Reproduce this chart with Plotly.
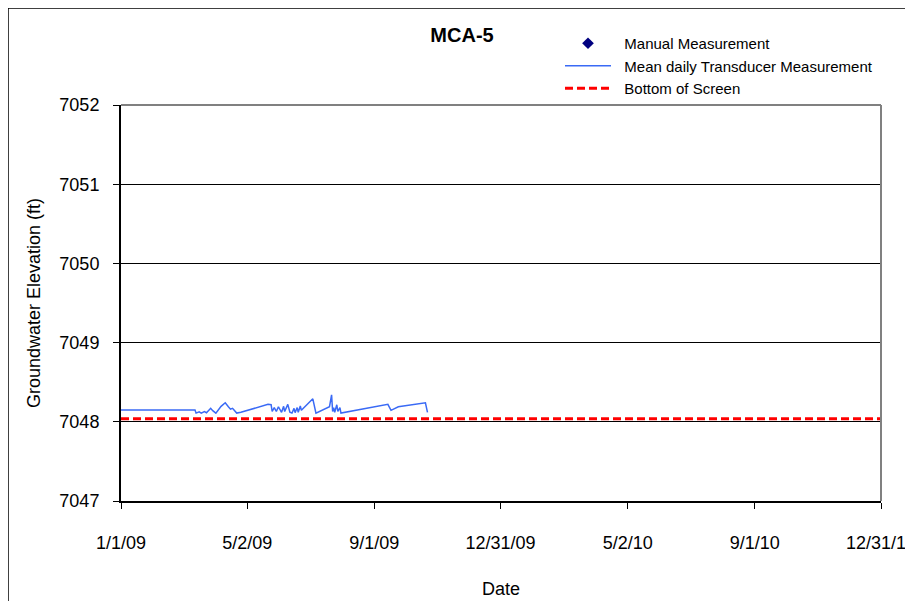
import plotly.graph_objects as go

# ---- data ----
transducer_dates = [
    "2009-01-01", "2009-03-13", "2009-03-14", "2009-03-17", "2009-03-19", "2009-03-22",
    "2009-03-24", "2009-03-28", "2009-03-30", "2009-04-02", "2009-04-07", "2009-04-11",
    "2009-04-14", "2009-04-16", "2009-04-18", "2009-04-22", "2009-04-26", "2009-05-22",
    "2009-05-25", "2009-05-26", "2009-05-28", "2009-05-30", "2009-06-01", "2009-06-04",
    "2009-06-06", "2009-06-07", "2009-06-10", "2009-06-12", "2009-06-14", "2009-06-16",
    "2009-06-17", "2009-06-19", "2009-06-20", "2009-06-22", "2009-06-23", "2009-07-04",
    "2009-07-07", "2009-07-20", "2009-07-22", "2009-07-23", "2009-07-24", "2009-07-25",
    "2009-07-27", "2009-07-28", "2009-07-30", "2009-07-31", "2009-09-14", "2009-09-17",
    "2009-09-24", "2009-10-20", "2009-10-22",
]
transducer_values = [
    7048.148, 7048.148, 7048.11, 7048.126, 7048.11, 7048.13,
    7048.115, 7048.17, 7048.14, 7048.11, 7048.195, 7048.24,
    7048.19, 7048.16, 7048.17, 7048.11, 7048.12, 7048.22,
    7048.215, 7048.13, 7048.18, 7048.13, 7048.19, 7048.12,
    7048.195, 7048.13, 7048.22, 7048.12, 7048.11, 7048.17,
    7048.115, 7048.18, 7048.12, 7048.20, 7048.145, 7048.29,
    7048.11, 7048.19, 7048.34, 7048.13, 7048.18, 7048.12,
    7048.215, 7048.13, 7048.18, 7048.11, 7048.22, 7048.145,
    7048.19, 7048.24, 7048.12,
]
manual_dates = [None]
manual_values = [None]
screen_dates = ["2009-01-01", "2010-12-31"]
screen_values = [7048.04, 7048.04]

x_tick_vals = ["2009-01-01", "2009-05-02", "2009-09-01", "2009-12-31", "2010-05-02", "2010-09-01", "2010-12-31"]
x_tick_text = ["1/1/09", "5/2/09", "9/1/09", "12/31/09", "5/2/10", "9/1/10", "12/31/10"]
y_tick_vals = [7047, 7048, 7049, 7050, 7051, 7052]

FONT = "Liberation Sans, Arial, sans-serif"
GAP = "\u00a0\u00a0"

fig = go.Figure()
fig.add_trace(go.Scatter(
    x=manual_dates, y=manual_values, mode="markers", name=GAP + "Manual Measurement",
    marker=dict(symbol="diamond", color="#000080", size=9)))
fig.add_trace(go.Scatter(
    x=transducer_dates, y=transducer_values, mode="lines",
    name=GAP + "Mean daily Transducer Measurement",
    line=dict(color="#3a6af5", width=1.5)))
fig.add_trace(go.Scatter(
    x=screen_dates, y=screen_values, mode="lines", name=GAP + "Bottom of Screen",
    line=dict(color="#ff0000", width=3, dash="8px,4px")))

OFF = 8  # page body margin
SL, SR, ST, SB = 121, 881, 105, 501
W, H = 913 - OFF, 601 - OFF
L, R, T, B = SL - OFF, SR - OFF, ST - OFF, SB - OFF

def px_x(sx):
    return (sx - SL) / (SR - SL)

def px_y(sy):
    return (SB - sy) / (SB - ST)

fig.update_layout(
    width=W, height=H,
    margin=dict(l=L, r=W - R, t=T, b=H - B, autoexpand=False),
    paper_bgcolor="white", plot_bgcolor="white",
    font=dict(family=FONT, size=17, color="black"),
    title=dict(text="<b>MCA-5</b>", x=px_x(462), xref="paper", xanchor="center",
               y=1 - (35 - OFF) / H, yref="container", yanchor="middle",
               font=dict(family=FONT, size=20, color="black")),
    showlegend=True,
    legend=dict(x=px_x(560), xanchor="left", y=px_y(27), yanchor="top",
                bgcolor="rgba(0,0,0,0)", font=dict(family=FONT, size=15),
                itemwidth=46),
    xaxis=dict(
        type="date", range=["2009-01-01", "2010-12-31"],
        tickvals=x_tick_vals, ticktext=x_tick_text,
        showgrid=False, zeroline=False,
        showline=True, linecolor="black", linewidth=2,
        ticks="outside", ticklen=6, tickcolor="black", tickwidth=1,
        ticklabelstandoff=18, ticklabeloverflow="allow",
        title=dict(text="Date", standoff=31, font=dict(family=FONT, size=18)),
        tickfont=dict(family=FONT, size=18),
    ),
    yaxis=dict(
        range=[7047, 7052], tickvals=y_tick_vals,
        showgrid=True, gridcolor="black", gridwidth=1, zeroline=False,
        showline=True, linecolor="black", linewidth=2,
        ticks="outside", ticklen=6, tickcolor="black", tickwidth=1,
        ticklabelstandoff=10,
        title=dict(text="Groundwater Elevation (ft)", standoff=14,
                   font=dict(family=FONT, size=18)),
        tickfont=dict(family=FONT, size=18),
    ),
    shapes=[
        dict(type="line", xref="paper", yref="paper", x0=0, x1=1, y0=1, y1=1,
             line=dict(color="#808080", width=2), layer="above"),
        dict(type="line", xref="paper", yref="paper", x0=1, x1=1, y0=0, y1=1,
             line=dict(color="#808080", width=2), layer="above"),
        dict(type="line", xref="paper", yref="paper", x0=px_x(8), x1=px_x(915),
             y0=px_y(8), y1=px_y(8), line=dict(color="black", width=1.5)),
        dict(type="line", xref="paper", yref="paper", x0=px_x(8), x1=px_x(8),
             y0=px_y(8), y1=px_y(605), line=dict(color="black", width=1.5)),
    ],
)

fig.write_html("out.html")
